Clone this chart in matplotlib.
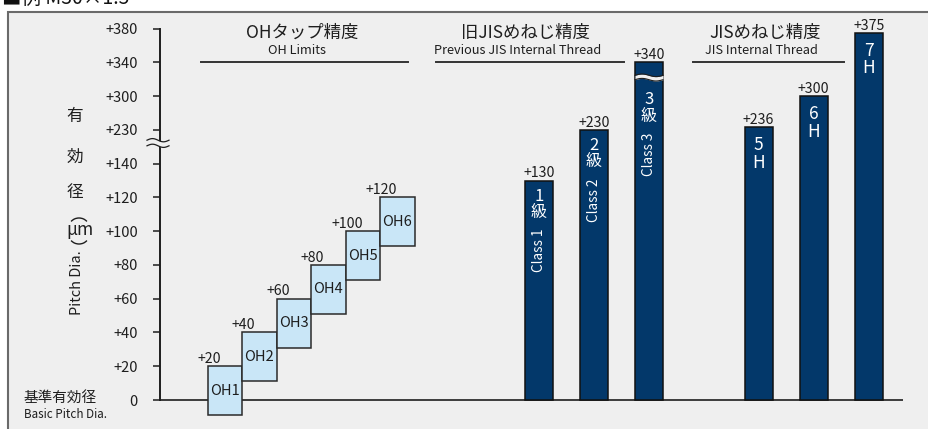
import numpy as np
import matplotlib.pyplot as plt
from matplotlib.patches import Rectangle, Arc
from matplotlib.lines import Line2D
from matplotlib.transforms import IdentityTransform

plt.rcParams['font.family'] = ['Noto Sans CJK JP', 'DejaVu Sans']

W, H = 929, 429
BG = '#efefef'
NAVY = '#03386a'
LIGHT = '#c9e6f7'
INK = '#1e1e1e'

# broken y axis: tick values sit at evenly spaced steps
tick_vals = [0, 20, 40, 60, 80, 100, 120, 140, 230, 300, 340, 380]
tick_labels = ['0'] + ['+%d' % v for v in tick_vals[1:]]

# OH tap limits (box bottom / top, µm)
oh_names = ['OH1', 'OH2', 'OH3', 'OH4', 'OH5', 'OH6']
oh_low = [-9, 11, 31, 51, 71, 91]
oh_high = [20, 40, 60, 80, 100, 120]

# previous JIS internal thread classes
old_num = ['1', '2', '3']
old_names = ['Class 1', 'Class 2', 'Class 3']
old_high = [130, 230, 340]

# JIS internal thread tolerance positions
jis_num = ['5', '6', '7']
jis_high = [236, 300, 375]


def px(x, y):
    return x / W, 1 - y / H


# piecewise scale through the tick steps
knot_v = [-100] + tick_vals + [1000]
knot_i = [-5] + list(range(len(tick_vals))) + [11 + 620 / 40]


def fwd(v):
    return np.interp(v, knot_v, knot_i)


def inv(i):
    return np.interp(i, knot_i, knot_v)


fig = plt.figure(figsize=(W / 100, H / 100), dpi=100)
fig.patch.set_facecolor('white')

# grey panel behind everything
fig.patches.append(Rectangle(px(8, 436), 930 / W, 424 / H, transform=fig.transFigure,
                             facecolor=BG, edgecolor='#6a6a6a', lw=1.5, zorder=-5))

y_zero, y_top = 400.0, 28.7
step_px = (y_zero - y_top) / 11
idx_lo = -0.6
bottom_px = y_zero - idx_lo * step_px
ax = fig.add_axes([160 / W, 1 - bottom_px / H, (903 - 160) / W, (bottom_px - y_top) / H])
ax.set_facecolor('none')
ax.set_yscale('function', functions=(fwd, inv))
ax.set_ylim(inv(idx_lo), 380)
ax.set_xlim(0, 743)

for s in ['top', 'right', 'bottom']:
    ax.spines[s].set_visible(False)
ax.spines['left'].set_bounds(0, 380)
ax.spines['left'].set_linewidth(1.4)
ax.spines['left'].set_color(INK)
ax.set_xticks([])
ax.set_yticks(tick_vals)
ax.set_yticklabels(tick_labels)
ax.yaxis.set_minor_locator(plt.NullLocator())
ax.tick_params(axis='y', direction='out', length=5, width=1.1, color=INK,
               pad=11, labelsize=10.5, labelcolor=INK)
ax.axhline(0, color=INK, lw=1.2, zorder=1)

# OH boxes, stepped
oh_w = 34.5
oh_left = 47.7 + oh_w * np.arange(len(oh_names))
heights = np.array(oh_high) - np.array(oh_low)
ax.bar(oh_left, heights, bottom=oh_low, width=oh_w, align='edge',
       color=LIGHT, edgecolor='#2a2a2a', lw=1.1, zorder=2)
for x, lo, hi, name in zip(oh_left, oh_low, oh_high, oh_names):
    ax.annotate('+%d' % hi, (x + 1.5, hi), xytext=(0, 0.3), textcoords='offset points',
                ha='center', va='bottom', fontsize=10.2, color=INK)
    ax.text(x + oh_w / 2, inv((fwd(lo) + fwd(hi)) / 2), name,
            ha='center', va='center', fontsize=10.5, color=INK, zorder=3)

# navy bars
bar_w = 28
old_x = [379, 434, 489]
jis_x = [598.5, 653.5, 709]
ax.bar(old_x + jis_x, old_high + jis_high, width=bar_w, color=NAVY,
       edgecolor='#111111', lw=1.1, zorder=2)
for x, v in zip(old_x + jis_x, old_high + jis_high):
    ax.annotate('+%d' % v, (x, v), xytext=(0, 0.3), textcoords='offset points',
                ha='center', va='bottom', fontsize=10.2, color=INK)


def inner(x, v, drop_px, s, size, rot=0):
    ax.annotate(s, (x, v), xytext=(0, -drop_px * 0.72), textcoords='offset points',
                ha='center', va='center', color='white', fontsize=size, rotation=rot,
                zorder=4)


old_drop = [0, 0, 22]
for x, v, d, n, name in zip(old_x, old_high, old_drop, old_num, old_names):
    inner(x, v, d + 15.5, n, 12)
    inner(x, v, d + 32, '級', 11.5)
    inner(x, v, d + 70, name, 9.8, rot=90)

for x, v, n in zip(jis_x, jis_high, jis_num):
    inner(x, v, 18, n, 12.5)
    inner(x, v, 35.5, 'H', 12.5)


# wavy breaks
def wave_band(x0, x1, i_mid, half, amp, edge_lw):
    xs = np.linspace(x0, x1, 60)
    ph = np.sin((xs - x0) / (x1 - x0) * 2 * np.pi) * amp
    ax.fill_between(xs, inv(i_mid - half + ph), inv(i_mid + half + ph),
                    color=BG, lw=0, zorder=5, clip_on=False)
    for sgn in (-1, 1):
        ax.plot(xs, inv(i_mid + sgn * half + ph), color=INK, lw=edge_lw,
                zorder=6, clip_on=False)


wave_band(-13, 9, (y_zero - 143) / step_px, 2.8 / step_px, 1.6 / step_px, 0.9)
wave_band(old_x[2] - bar_w / 2, old_x[2] + bar_w / 2, (y_zero - 77.5) / step_px,
          2.2 / step_px, 1.3 / step_px, 0.8)

# group headers
headers = [
    (302, 'OHタップ精度', 297, 'OH Limits', 201, 408),
    (525, '旧JISめねじ精度', 518, 'Previous JIS Internal Thread', 436, 624),
    (765, 'JISめねじ精度', 761, 'JIS Internal Thread', 693, 844),
]
for xj, jp, xe, en, l0, l1 in headers:
    fig.text(*px(xj, 33), jp, ha='center', va='center', fontsize=12.5, color=INK)
    fig.text(*px(xe, 51), en, ha='center', va='center', fontsize=9.2, color=INK)
    fig.add_artist(Line2D([l0 / W, l1 / W], [1 - 62 / H] * 2, color='#333333',
                          lw=1.4, transform=fig.transFigure))

# y label, written vertically
for ch, yy in zip('有効径', [117, 157, 193]):
    fig.text(*px(75, yy), ch, ha='center', va='center', fontsize=12, color=INK)
fig.text(*px(80, 230), 'μm', ha='center', va='center', fontsize=12.5, color=INK)
# vertical-writing parentheses around the unit
for cy, t0, t1 in [(227, 35, 145), (235, 215, 325)]:
    fig.add_artist(Arc((79, H - cy), 20, 18, theta1=t0, theta2=t1, color=INK, lw=1.0,
                       transform=IdentityTransform()))
fig.text(*px(77, 283), 'Pitch Dia.', ha='center', va='center', rotation=90,
         fontsize=10.5, color=INK)

fig.text(*px(24, 398), '基準有効径', ha='left', va='center', fontsize=10.5, color=INK)
fig.text(*px(24, 414), 'Basic Pitch Dia.', ha='left', va='center', fontsize=8.4, color=INK)

# heading at the very top, cut by the page edge
fig.text(*px(2, 4), '■例 M30×1.5', ha='left', va='baseline', fontsize=14, color='#111111')

fig.savefig('out.png', dpi=100, facecolor='white')
